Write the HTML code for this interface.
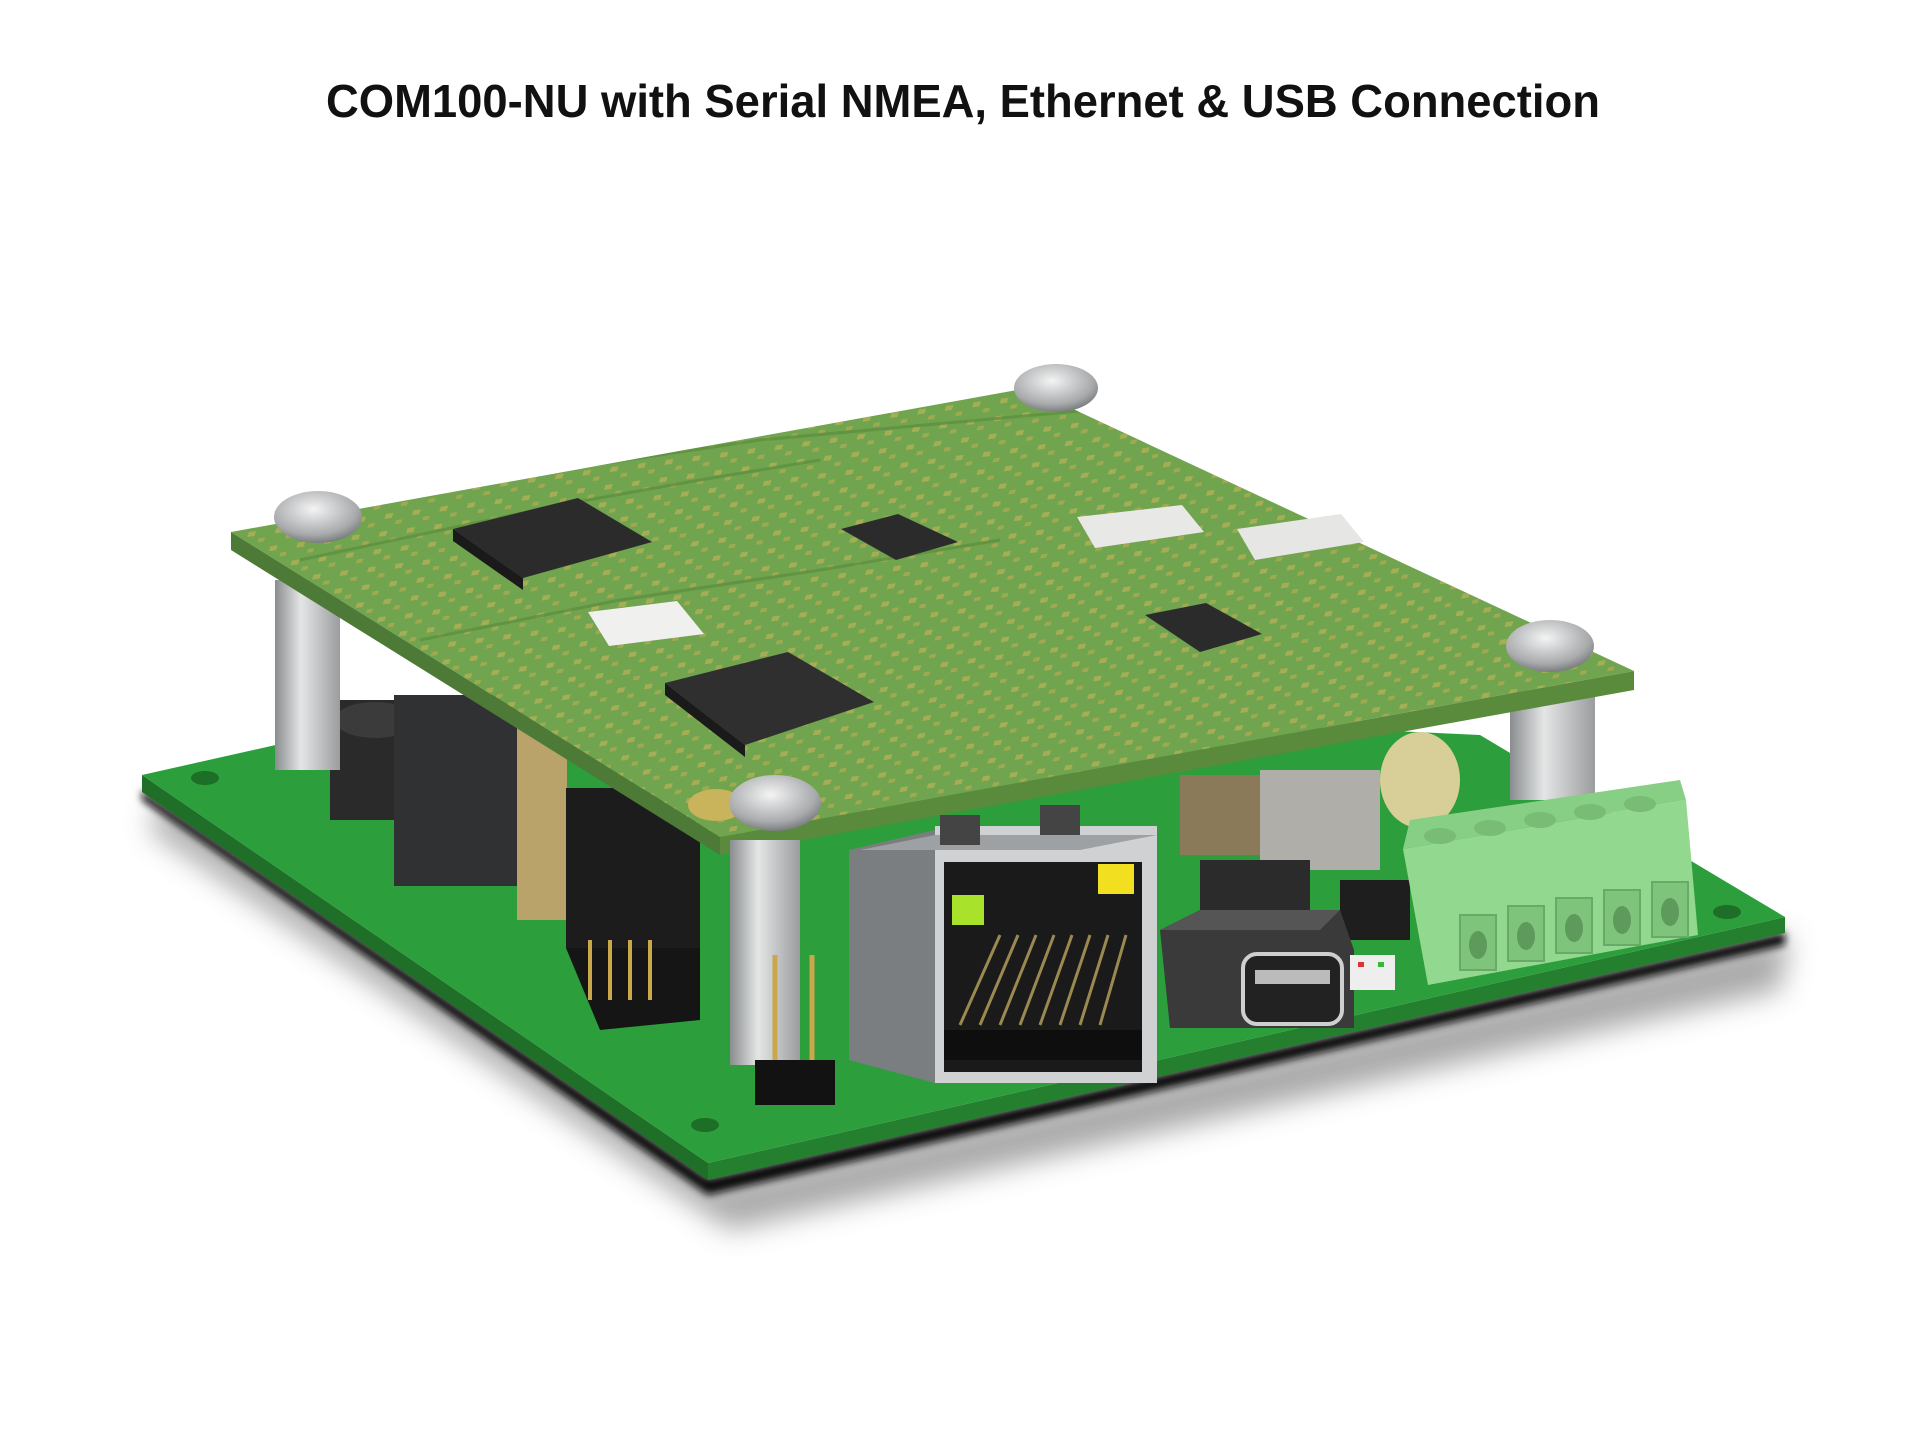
<!DOCTYPE html>
<html><head><meta charset="utf-8"><style>
html,body{margin:0;padding:0;background:#fff;width:1920px;height:1440px;overflow:hidden}
svg{display:block}
</style></head><body>
<svg width="1920" height="1440" viewBox="0 0 1920 1440" xmlns="http://www.w3.org/2000/svg">
<defs>
<filter id="bl" x="-20%" y="-20%" width="140%" height="140%"><feGaussianBlur stdDeviation="14"/></filter>
<filter id="bl2"><feGaussianBlur stdDeviation="4"/></filter>
<pattern id="pads" width="26" height="18" patternUnits="userSpaceOnUse" patternTransform="skewX(-25) rotate(-8)">
<rect x="2" y="2" width="7" height="5" fill="#c8b45a"/><rect x="14" y="10" width="6" height="4" fill="#c0ac55"/>
</pattern>
<clipPath id="topc"><polygon points="231,532 1028,388 1634,671 720,837"/></clipPath>
<linearGradient id="silv" x1="0" x2="1"><stop offset="0" stop-color="#8a8d8f"/><stop offset=".4" stop-color="#e4e6e6"/><stop offset="1" stop-color="#9a9c9e"/></linearGradient>
<radialGradient id="scr" cx=".45" cy=".35" r=".7"><stop offset="0" stop-color="#f4f4f4"/><stop offset=".7" stop-color="#a8aaac"/><stop offset="1" stop-color="#6d7072"/></radialGradient>
</defs>

<text x="963" y="117" text-anchor="middle" font-family="Liberation Sans, sans-serif" font-weight="bold" font-size="46" textLength="1274" lengthAdjust="spacingAndGlyphs" fill="#111">COM100-NU with Serial NMEA, Ethernet &amp; USB Connection</text>

<polygon points="160,800 720,1185 1790,935 1780,990 730,1230 150,830" fill="#555" opacity=".5" filter="url(#bl)"/>
<polygon points="142,790 708,1178 1785,932 1785,945 708,1195 142,800" fill="#111" filter="url(#bl2)"/>

<polygon points="142,775 708,1163 708,1180 142,792" fill="#1f6f28"/>
<polygon points="708,1163 1785,917 1785,933 708,1180" fill="#24802f"/>
<polygon points="142,775 520,690 1480,735 1785,917 708,1163" fill="#2c9e3c"/>
<ellipse cx="205" cy="778" rx="14" ry="7" fill="#1d6e27"/>
<ellipse cx="705" cy="1125" rx="14" ry="7" fill="#1d6e27"/>
<ellipse cx="1727" cy="912" rx="14" ry="7" fill="#1d6e27"/>

<rect x="330" y="700" width="90" height="120" fill="#2a2a2a"/>
<ellipse cx="375" cy="720" rx="40" ry="18" fill="#3b3b3b"/>
<rect x="394" y="695" width="123" height="191" fill="#2f3133"/>
<rect x="517" y="720" width="50" height="200" fill="#b9a36a"/>
<rect x="566" y="788" width="134" height="160" fill="#1c1c1c"/>
<polygon points="566,948 700,948 700,1020 600,1030" fill="#151515"/>
<g stroke="#c9a74a" stroke-width="4"><line x1="590" y1="940" x2="590" y2="1000"/><line x1="610" y1="940" x2="610" y2="1000"/><line x1="630" y1="940" x2="630" y2="1000"/><line x1="650" y1="940" x2="650" y2="1000"/></g>
<rect x="1180" y="775" width="80" height="80" fill="#8a7a5a"/>
<rect x="1260" y="770" width="120" height="100" fill="#b0aea8"/>
<ellipse cx="1420" cy="780" rx="40" ry="48" fill="#d8cf98"/>
<rect x="1200" y="860" width="110" height="50" fill="#2b2b2b"/>
<rect x="1340" y="880" width="70" height="60" fill="#1e1e1e"/>

<rect x="275" y="580" width="65" height="190" fill="url(#silv)"/>
<rect x="1510" y="690" width="85" height="110" fill="url(#silv)"/>

<polygon points="231,532 720,837 720,855 231,550" fill="#4d7a36"/>
<polygon points="720,837 1634,671 1634,690 720,855" fill="#5a8a3c"/>
<polygon points="231,532 1028,388 1634,671 720,837" fill="#70a44e"/>
<g clip-path="url(#topc)">
<rect x="200" y="380" width="1450" height="470" fill="url(#pads)" opacity=".6"/>
<g fill="none" stroke="#5e9040" stroke-width="3" opacity=".8">
<path d="M300,560 L560,505 L700,480 L820,460"/><path d="M420,640 L620,600 L820,570 L1000,540"/><path d="M560,470 L760,440 L980,420 L1200,400"/>
</g>
</g>
<polygon points="453,529 578,498 652,542 523,578" fill="#2b2b2b"/>
<polygon points="453,529 523,578 523,590 453,541" fill="#1a1a1a"/>
<polygon points="841,529 898,514 958,542 896,560" fill="#2b2b2b"/>
<polygon points="665,683 788,652 874,702 745,745" fill="#2f2f2f"/>
<polygon points="665,683 745,745 745,757 665,695" fill="#1a1a1a"/>
<polygon points="1145,615 1206,603 1262,634 1200,652" fill="#2b2b2b"/>
<polygon points="1077,517 1182,505 1204,532 1095,548" fill="#e8e8e6"/>
<polygon points="1237,529 1341,514 1364,542 1255,560" fill="#e6e6e4"/>
<polygon points="588,612 677,601 704,634 609,646" fill="#f0f0ee"/>
<ellipse cx="716" cy="805" rx="28" ry="16" fill="#c9b45c"/>

<ellipse cx="318" cy="517" rx="44" ry="26" fill="url(#scr)"/>
<ellipse cx="1056" cy="388" rx="42" ry="24" fill="url(#scr)"/>
<ellipse cx="1550" cy="646" rx="44" ry="26" fill="url(#scr)"/>

<rect x="730" y="840" width="70" height="225" fill="url(#silv)"/>
<g stroke="#c9a74a" stroke-width="5"><line x1="775" y1="955" x2="775" y2="1065"/><line x1="812" y1="955" x2="812" y2="1065"/></g>
<rect x="755" y="1060" width="80" height="45" fill="#121212"/>
<ellipse cx="775" cy="803" rx="46" ry="28" fill="url(#scr)"/>

<polygon points="849,850 935,830 935,1083 849,1060" fill="#7b7e80"/>
<polygon points="935,826 1157,826 1157,1083 935,1083" fill="#cfd1d2"/>
<polygon points="860,850 935,835 1157,835 1080,850" fill="#9ea1a3"/>
<rect x="940" y="815" width="40" height="30" fill="#444"/>
<rect x="1040" y="805" width="40" height="30" fill="#444"/>
<rect x="944" y="862" width="198" height="210" fill="#1a1a1a"/>
<rect x="952" y="895" width="32" height="30" fill="#a8e22a"/>
<rect x="1098" y="864" width="36" height="30" fill="#f2e020"/>
<g stroke="#9a8a50" stroke-width="3">
<line x1="960" y1="1025" x2="1000" y2="935"/><line x1="980" y1="1025" x2="1018" y2="935"/><line x1="1000" y1="1025" x2="1036" y2="935"/><line x1="1020" y1="1025" x2="1054" y2="935"/><line x1="1040" y1="1025" x2="1072" y2="935"/><line x1="1060" y1="1025" x2="1090" y2="935"/><line x1="1080" y1="1025" x2="1108" y2="935"/><line x1="1100" y1="1025" x2="1126" y2="935"/>
</g>
<rect x="944" y="1030" width="198" height="30" fill="#0e0e0e"/>

<polygon points="1160,930 1200,910 1340,910 1354,950 1354,1028 1170,1028" fill="#3a3a3a"/>
<polygon points="1160,930 1200,910 1340,910 1320,930" fill="#555"/>
<rect x="1243" y="954" width="99" height="70" rx="14" fill="#222" stroke="#cfcfcf" stroke-width="4"/>
<rect x="1255" y="970" width="75" height="14" fill="#bbb"/>
<rect x="1350" y="955" width="45" height="35" fill="#eee"/>
<rect x="1358" y="962" width="6" height="5" fill="#d33"/><rect x="1378" y="962" width="6" height="5" fill="#3b3"/>

<polygon points="1403,849 1410,820 1680,780 1686,800" fill="#86cf84"/>
<polygon points="1403,849 1686,800 1698,935 1428,985" fill="#92d88f"/>
<g fill="#7ec47b" stroke="#6aaa68" stroke-width="2">
<rect x="1460" y="915" width="36" height="55"/><rect x="1508" y="906" width="36" height="55"/><rect x="1556" y="898" width="36" height="55"/><rect x="1604" y="890" width="36" height="55"/><rect x="1652" y="882" width="36" height="55"/>
</g>
<g fill="#5e9a5c"><ellipse cx="1478" cy="945" rx="9" ry="14"/><ellipse cx="1526" cy="936" rx="9" ry="14"/><ellipse cx="1574" cy="928" rx="9" ry="14"/><ellipse cx="1622" cy="920" rx="9" ry="14"/><ellipse cx="1670" cy="912" rx="9" ry="14"/></g>
<g fill="#78bc76"><ellipse cx="1440" cy="836" rx="16" ry="8"/><ellipse cx="1490" cy="828" rx="16" ry="8"/><ellipse cx="1540" cy="820" rx="16" ry="8"/><ellipse cx="1590" cy="812" rx="16" ry="8"/><ellipse cx="1640" cy="804" rx="16" ry="8"/></g>
</svg>
</body></html>
